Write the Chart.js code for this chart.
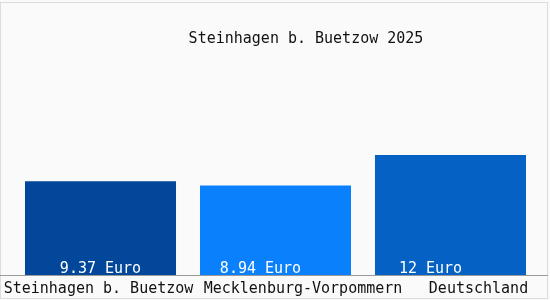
<!DOCTYPE html>
<html>
<head>
<meta charset="utf-8">
<script src="https://cdn.jsdelivr.net/npm/chart.js@4"></script>
<style>
    html, body { margin: 0; padding: 0; background: #fafafa; }
    #wrap { width: 550px; height: 300px; }
</style>
</head>
<body>
<div id="wrap"><canvas id="chart" width="550" height="300"></canvas></div>
<script>
// Chart data
const chartTitle = "Steinhagen b. Buetzow 2025";
const categories = ["Steinhagen b. Buetzow", "Mecklenburg-Vorpommern", "Deutschland"];
const values = [9.37, 8.94, 12];
const valueLabels = ["9.37 Euro", "8.94 Euro", "12 Euro"];

const barColors = ['#03479a', '#0a80fc', '#0562c4'];
const monoFont = '15px "DejaVu Sans Mono", "Liberation Mono", monospace';

// nudges so the text sits where the original had it
const valueShift = [0, -15, -20];
const labelShift = [-2, 27.5, 28];

// Draws frame, axis line, title and all the labels
const textPlugin = {
    id: 'textPlugin',
    afterDatasetsDraw(chart) {
        const ctx = chart.ctx;
        const area = chart.chartArea;
        const meta = chart.getDatasetMeta(0);
        ctx.save();

        // faint frame
        ctx.strokeStyle = '#dddddd';
        ctx.lineWidth = 1;
        ctx.strokeRect(0.5, 2.5, 547, 296);

        // axis line
        ctx.strokeStyle = '#9a9a9a';
        ctx.beginPath();
        ctx.moveTo(0, area.bottom + 0.5);
        ctx.lineTo(548, area.bottom + 0.5);
        ctx.stroke();

        ctx.font = monoFont;
        ctx.textAlign = 'center';
        ctx.textBaseline = 'alphabetic';

        // title
        ctx.fillStyle = '#111';
        ctx.fillText(chartTitle, 306, 43);

        meta.data.forEach((bar, i) => {
            ctx.fillStyle = '#ffffff';
            ctx.fillText(valueLabels[i], bar.x + valueShift[i], area.bottom - 2);
            ctx.fillStyle = '#111';
            ctx.fillText(categories[i], bar.x + labelShift[i], area.bottom + 18);
        });
        ctx.restore();
    }
};

const ctx = document.getElementById('chart').getContext('2d');
new Chart(ctx, {
    type: 'bar',
    data: {
        labels: categories,
        datasets: [{
            data: values,
            backgroundColor: barColors,
            borderWidth: 0,
            barPercentage: 0.863,
            categoryPercentage: 1
        }]
    },
    options: {
        responsive: false,
        animation: false,
        layout: { padding: { left: 13, right: 12, top: 35, bottom: 25 } },
        scales: {
            x: { display: false },
            y: { display: false, min: 0, max: 24 }
        },
        plugins: {
            legend: { display: false },
            title: { display: false },
            tooltip: { enabled: false }
        }
    },
    plugins: [textPlugin]
});
</script>
</body>
</html>
